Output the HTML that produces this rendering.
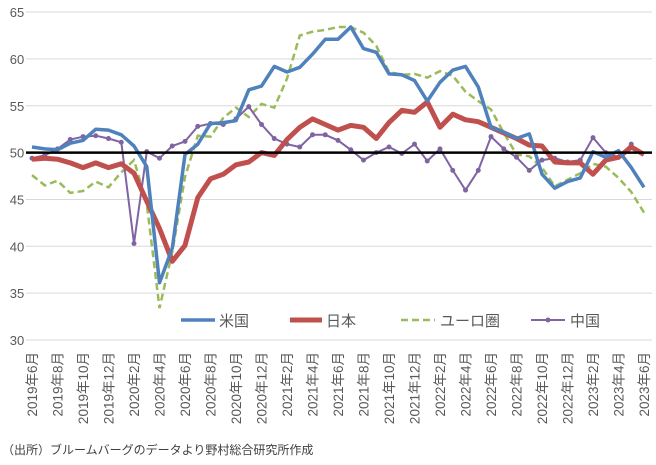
<!DOCTYPE html>
<html><head><meta charset="utf-8"><style>
html,body{margin:0;padding:0;background:#fff;width:656px;height:465px;overflow:hidden}
svg{display:block;font-family:"Liberation Sans","Noto Sans CJK JP",sans-serif}
</style></head><body>
<svg id="s" width="656" height="465" xmlns="http://www.w3.org/2000/svg"></svg>
<script>
const s=document.getElementById('s');
const X=i=>32+12.75*i, Y=v=>340-(v-30)*9.37;
let h='';
for(let v=30;v<=65;v+=5){h+=`<line x1="26" x2="652" y1="${Y(v)}" y2="${Y(v)}" stroke="#d9d9d9" stroke-width="1"/>`;
h+=`<text x="17" y="${Y(v)+5}" font-size="13" fill="#595959" text-anchor="middle">${v}</text>`;}
const us=[50.6,50.4,50.3,51.0,51.3,52.5,52.4,51.9,50.7,48.5,36.1,39.8,49.8,50.9,53.1,53.2,53.4,56.7,57.1,59.2,58.6,59.1,60.5,62.1,62.1,63.4,61.1,60.7,58.4,58.3,57.7,55.5,57.5,58.8,59.2,57.0,52.7,52.2,51.5,52.0,47.7,46.2,46.9,47.3,50.1,49.5,50.2,48.4,46.3];
const jp=[49.3,49.4,49.3,48.9,48.4,48.9,48.4,48.8,47.8,44.8,41.9,38.4,40.1,45.2,47.2,47.7,48.7,49.0,50.0,49.7,51.4,52.7,53.6,53.0,52.4,52.9,52.7,51.5,53.2,54.5,54.3,55.4,52.7,54.1,53.5,53.3,52.7,52.1,51.5,50.8,50.7,49.0,48.9,48.9,47.7,49.2,49.5,50.6,49.8];
const eu=[47.6,46.5,47.0,45.7,45.9,46.9,46.3,47.9,49.2,44.5,33.4,39.4,47.4,51.8,51.7,53.7,54.8,53.8,55.2,54.8,57.9,62.5,62.9,63.1,63.4,63.4,62.8,61.4,58.6,58.3,58.4,58.0,58.7,58.2,56.5,55.5,54.6,52.1,49.8,49.6,48.4,46.4,47.1,47.8,48.8,48.5,47.3,45.8,43.6];
const cn=[49.4,49.7,50.4,51.4,51.7,51.8,51.5,51.1,40.3,50.1,49.4,50.7,51.2,52.8,53.1,53.0,53.6,54.9,53.0,51.5,50.9,50.6,51.9,51.9,51.3,50.3,49.2,50.0,50.6,49.9,50.9,49.1,50.4,48.1,46.0,48.1,51.7,50.4,49.5,48.1,49.2,49.4,49.0,49.2,51.6,50.0,49.5,50.9];
const pts=a=>a.map((v,i)=>X(i).toFixed(1)+','+Y(v).toFixed(1)).join(' ');
h+=`<polyline points="${pts(eu)}" fill="none" stroke="#9bbb59" stroke-width="2.5" stroke-dasharray="7,4"/>`;
h+=`<polyline points="${pts(cn)}" fill="none" stroke="#8064a2" stroke-width="2"/>`;
cn.forEach((v,i)=>h+=`<circle cx="${X(i)}" cy="${Y(v)}" r="2.5" fill="#8064a2"/>`);
h+=`<polyline points="${pts(jp)}" fill="none" stroke="#c0504d" stroke-width="5" stroke-linejoin="round"/>`;
h+=`<polyline points="${pts(us)}" fill="none" stroke="#4f81bd" stroke-width="3.5" stroke-linejoin="round"/>`;
h+=`<line x1="26" x2="652" y1="${Y(50)}" y2="${Y(50)}" stroke="#000" stroke-width="2.5"/>`;
h+=`<line x1="181" x2="215" y1="320" y2="320" stroke="#4f81bd" stroke-width="3.5"/><text x="219" y="326" font-size="15" fill="#595959">米国</text>`;
h+=`<line x1="290" x2="322" y1="320" y2="320" stroke="#c0504d" stroke-width="5"/><text x="326" y="326" font-size="15" fill="#595959">日本</text>`;
h+=`<line x1="401" x2="435" y1="320" y2="320" stroke="#9bbb59" stroke-width="2.5" stroke-dasharray="7,4"/><text x="440" y="326" font-size="15" fill="#595959">ユーロ圏</text>`;
h+=`<line x1="531" x2="565" y1="320" y2="320" stroke="#8064a2" stroke-width="2"/><circle cx="548" cy="320" r="2.5" fill="#8064a2"/><text x="570" y="326" font-size="15" fill="#595959">中国</text>`;
const labs=[];for(let i=0;i<=48;i+=2){let m=6+i;let y=2019+Math.floor((m-1)/12);m=((m-1)%12)+1;labs.push([i,`${y}年${m}月`]);}
labs.forEach(([i,t])=>h+=`<text transform="translate(${X(i)+5},352) rotate(-90)" font-size="13.5" fill="#595959" text-anchor="end">${t}</text>`);
h+=`<text x="2" y="454" font-size="12" fill="#404040">（出所）ブルームバーグのデータより野村総合研究所作成</text>`;
s.innerHTML=h;
</script>
</body></html>
